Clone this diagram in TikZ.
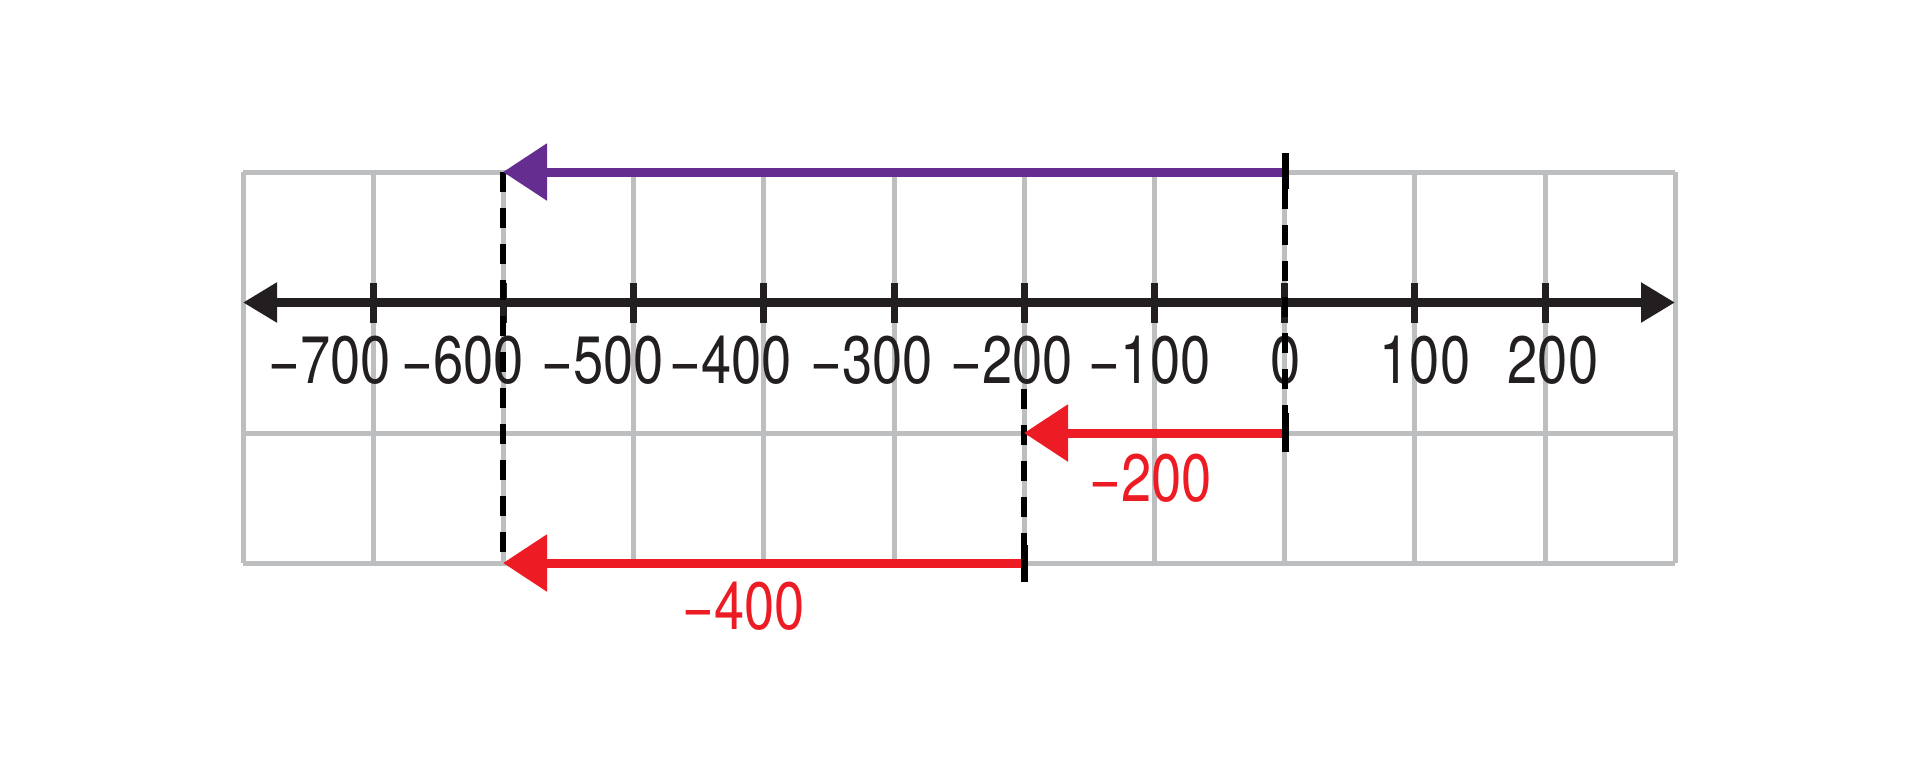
\documentclass[tikz,border=0pt]{standalone}
\usepackage{fontspec}
\setmainfont{TeX Gyre Heros}[FakeStretch=0.81]
\usetikzlibrary{arrows.meta}
\definecolor{gridgray}{HTML}{BCBEC0}
\definecolor{axisblack}{HTML}{231F20}
\definecolor{numpurple}{HTML}{662D91}
\definecolor{numred}{HTML}{ED1C24}
\tikzset{
  gridline/.style={draw=gridgray,line width=5pt},
  axisline/.style={draw=axisblack,line width=8.5pt,{Triangle[length=34pt,width=38pt]}-{Triangle[length=34pt,width=38pt]}},
  ticksty/.style={draw=axisblack,line width=7pt},
  blacktick/.style={draw=black,line width=7pt},
  guide/.style={draw=black,line width=5.5pt,dash pattern=on 20pt off 16pt},
  jump/.style={line width=9pt,-{Triangle[length=44pt,width=55pt]}},
  numlabel/.style={inner sep=0pt,font=\fontsize{67}{67}\selectfont,text=axisblack},
  redlabel/.style={inner sep=0pt,font=\fontsize{67}{67}\selectfont,text=numred}
}
\begin{document}
\begin{tikzpicture}[x=1pt,y=-1pt]
\useasboundingbox (0,0) rectangle (1920,758);
% grid
\foreach \i in {0,...,11}
  \draw[gridline] ({243+130.2*\i},172) -- ({243+130.2*\i},563);
\foreach \yy in {172,433,563}
  \draw[gridline] (243,\yy) -- (1675,\yy);
% axis
\coordinate (axL) at (243,302.5);
\coordinate (axR) at (1675,302.5);
\draw[axisline] (axL) -- (axR);
\foreach \i in {1,...,10}
  \draw[ticksty] ({243+130.2*\i},283) -- ({243+130.2*\i},323);
% axis labels
\node[numlabel] (l7) at (330,360) {−700};
\node[numlabel] (l6) at (463,360) {−600};
\node[numlabel] (l5) at (603,360) {−500};
\node[numlabel] (l4) at (731,360) {−400};
\node[numlabel] (l3) at (872,360) {−300};
\node[numlabel] (l2) at (1012,360) {−200};
\node[numlabel] (l1) at (1150,360) {−100};
\node[numlabel] (l0) at (1286,360) {0};
\node[numlabel] (p1) at (1425,360) {100};
\node[numlabel] (p2) at (1553,360) {200};
% key points
\coordinate (zeroTop) at (1285,172);
\coordinate (zeroMid) at (1285,433);
\coordinate (m200Mid) at (1024,433);
\coordinate (m200Bot) at (1024,563);
\coordinate (m600Top) at (503,172);
\coordinate (m600Bot) at (503,563);
% dashed guides
\draw[guide] (m600Top) -- (m600Bot);
\draw[guide] (1285,189) -- (1285,413);
\draw[guide] (1024,389) -- (1024,545);
% arrows
\draw[jump,draw=numpurple,fill=numpurple] (zeroTop) -- (m600Top);
\draw[jump,draw=numred,fill=numred] (zeroMid) -- (m200Mid);
\draw[jump,draw=numred,fill=numred] (m200Bot) -- (m600Bot);
% black end ticks
\draw[blacktick] (1285,153) -- (1285,189);
\draw[blacktick] (1285,413) -- (1285,452);
\draw[blacktick] (1024,545) -- (1024,582);
% red labels
\node[redlabel] (r200) at (1151,478) {−200};
\node[redlabel] (r400) at (744,606) {−400};
\end{tikzpicture}
\end{document}
